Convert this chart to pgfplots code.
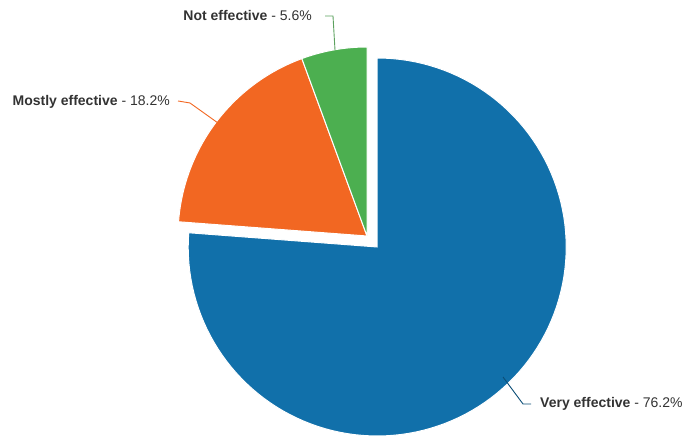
\documentclass[border=0pt]{standalone}
\usepackage{pgfplots}
\pgfplotsset{compat=1.18}
\usepackage{fontspec}
\setmainfont{Liberation Sans}
\definecolor{cblue}{HTML}{1170AA}
\definecolor{corange}{HTML}{F26722}
\definecolor{cgreen}{HTML}{4CAF50}
\definecolor{ctext}{HTML}{333333}
% data (percent)
\def\vVery{76.2}
\def\vMostly{18.2}
\def\vNot{5.6}
\pgfmathsetmacro{\aA}{90}
\pgfmathsetmacro{\aB}{90-3.6*\vVery}
\pgfmathsetmacro{\aC}{\aB-3.6*\vMostly}
\pgfmathsetmacro{\aD}{\aC-3.6*\vNot}
\pgfmathsetmacro{\aMid}{(\aA+\aB)/2}
\pgfmathsetmacro{\cx}{367}
\pgfmathsetmacro{\cy}{203}
\pgfmathsetmacro{\rr}{189}
\pgfmathsetmacro{\bx}{\cx+15*cos(\aMid)}
\pgfmathsetmacro{\by}{\cy+15*sin(\aMid)}
\begin{document}
\begin{tikzpicture}
\begin{axis}[
  width=695bp, height=439bp, scale only axis,
  xmin=0, xmax=695, ymin=0, ymax=439,
  hide axis, clip=false,
]
\path (rel axis cs:0,0) rectangle (rel axis cs:1,1);
\addplot[fill=cblue, draw=white, line width=1pt, domain=\aB:\aA, samples=120, variable=\t]
  ({\bx+\rr*cos(t)},{\by+\rr*sin(t)}) -- (axis cs:\bx,\by) -- cycle;
\addplot[fill=corange, draw=white, line width=1pt, domain=\aC:\aB, samples=40, variable=\t]
  ({\cx+\rr*cos(t)},{\cy+\rr*sin(t)}) -- (axis cs:\cx,\cy) -- cycle;
\addplot[fill=cgreen, draw=white, line width=1pt, domain=\aD:\aC, samples=20, variable=\t]
  ({\cx+\rr*cos(t)},{\cy+\rr*sin(t)}) -- (axis cs:\cx,\cy) -- cycle;
% connectors
\draw[cgreen!70!gray, line width=0.9pt] (axis cs:335,389) -- (axis cs:333,423) -- (axis cs:325,423);
\draw[corange, line width=0.9pt] (axis cs:218,316) -- (axis cs:190,336) -- (axis cs:178,338);
\draw[cblue!70!black, line width=0.9pt] (axis cs:503,62) -- (axis cs:523,35) -- (axis cs:531,35);
% labels
\node[anchor=mid east, inner sep=0pt, text=ctext, font=\fontsize{14bp}{16bp}\selectfont] at (axis cs:312,421) {\textbf{Not effective} - \vNot\%};
\node[anchor=mid east, inner sep=0pt, text=ctext, font=\fontsize{14bp}{16bp}\selectfont] at (axis cs:170,336) {\textbf{Mostly effective} - \vMostly\%};
\node[anchor=mid west, inner sep=0pt, text=ctext, font=\fontsize{14bp}{16bp}\selectfont] at (axis cs:540,34) {\textbf{Very effective} - \vVery\%};
\end{axis}
\end{tikzpicture}
\end{document}
